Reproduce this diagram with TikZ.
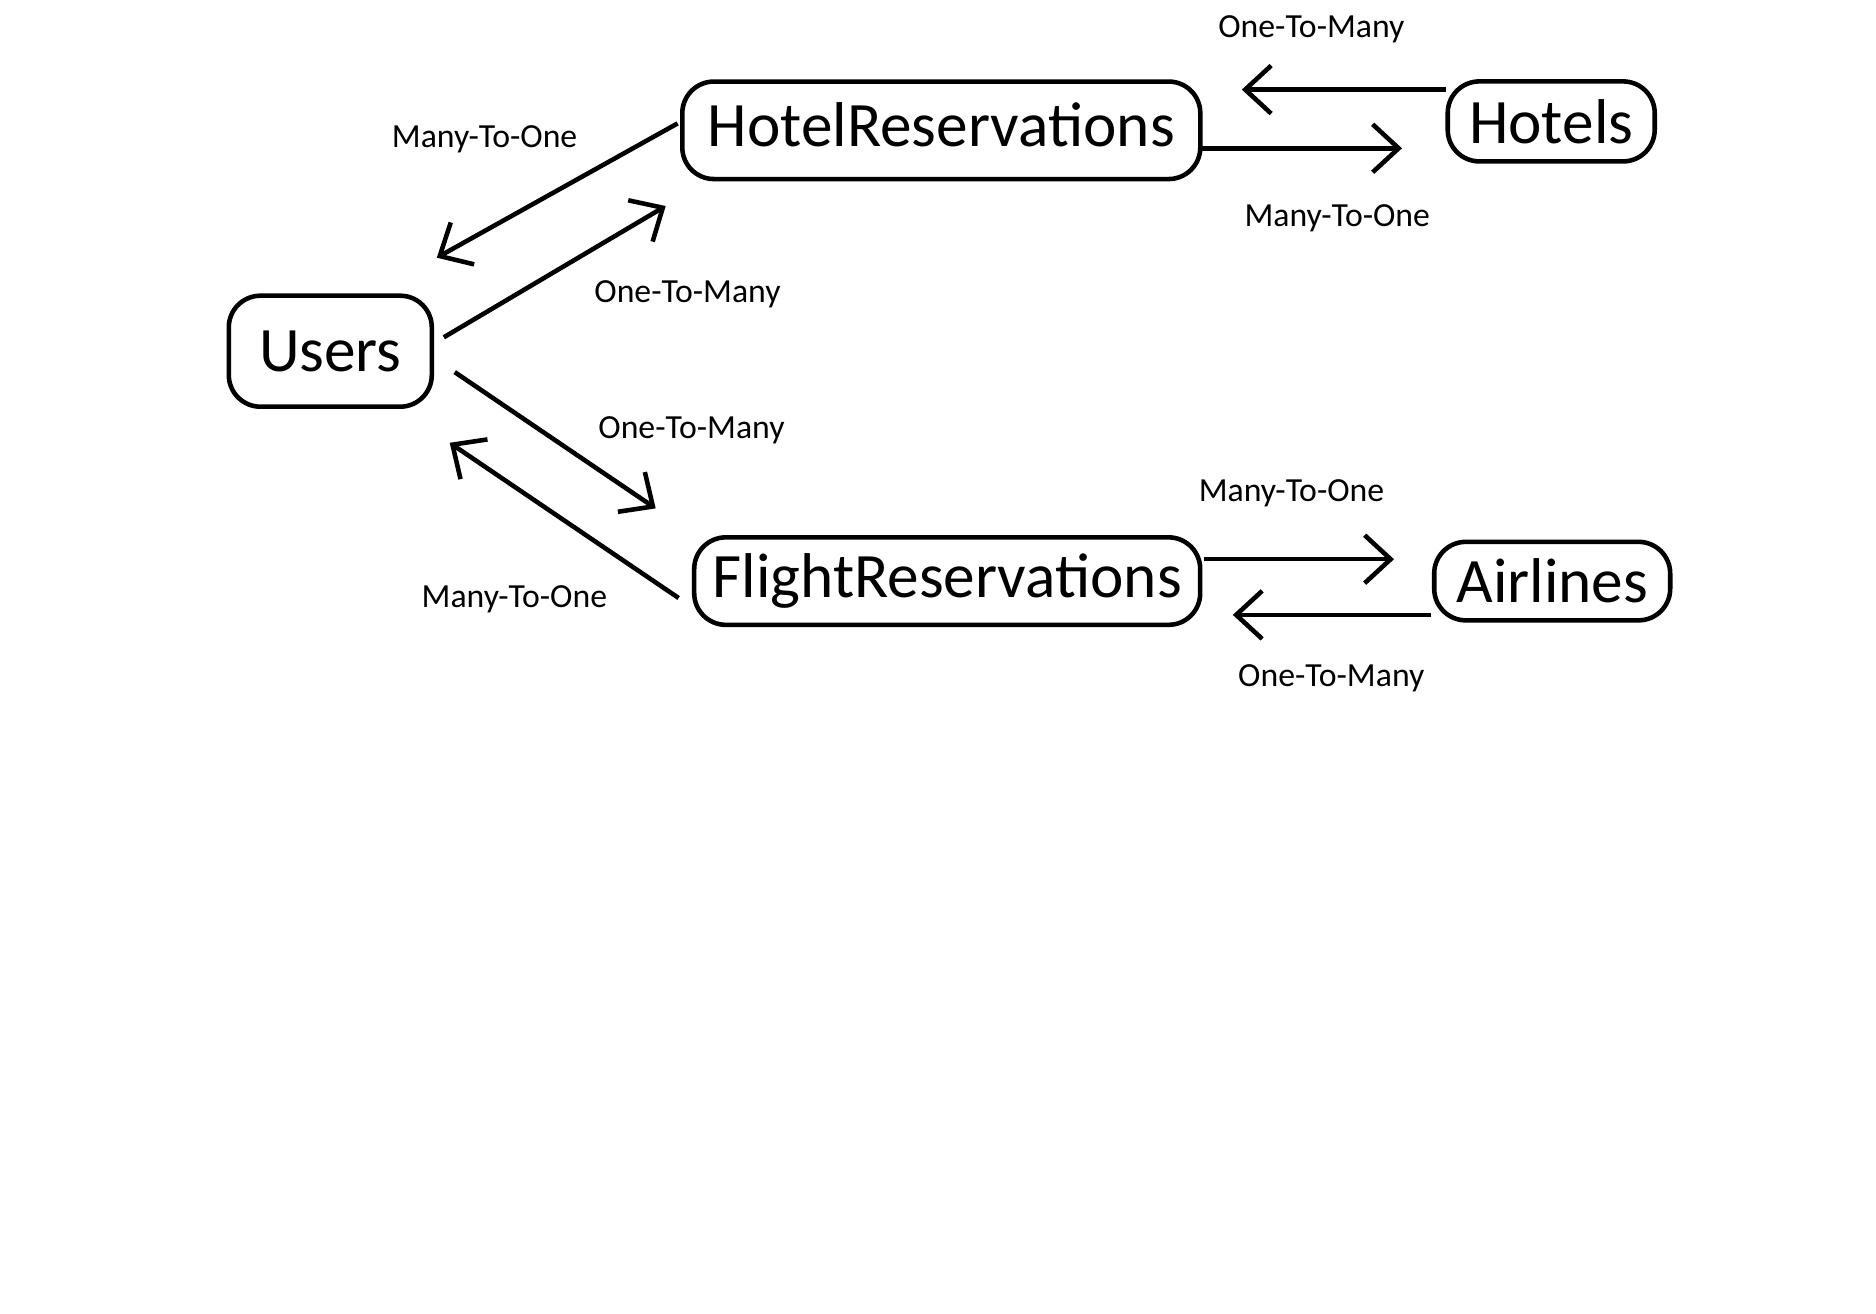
\documentclass[tikz,border=0pt]{standalone}
\usepackage{fontspec}
\setmainfont{Carlito}
\usetikzlibrary{arrows.meta}

\begin{document}
\begin{tikzpicture}[
    tablenode/.style={shape=rectangle, draw=black, line width=1.3pt, rounded corners=9pt, font=\fontsize{18}{22}\selectfont, inner sep=0pt},
    relnode/.style={font=\fontsize{9.6}{12}\selectfont, inner sep=1pt},
    relarrow/.style={line width=1.3pt, -{Straight Barb[length=2.6mm, width=4.8mm]}}
]
% Grid for drafting
%\draw[step=1cm,yellow,very thin] (0,0) grid (19,-14);
\useasboundingbox (0,0) rectangle (18.76,-13.14);

% Boxes
\node[tablenode, minimum width=2.03cm, minimum height=1.11cm] (users) at (3.303,-3.512) {Users};
\node[tablenode, minimum width=5.18cm, minimum height=0.975cm, text depth=0.12cm] (hotelres) at (9.413,-1.303) {HotelReservations};
\node[tablenode, minimum width=2.07cm, minimum height=0.80cm] (hotels) at (15.512,-1.214) {Hotels};
\node[tablenode, minimum width=5.06cm, minimum height=0.875cm] (flightres) at (9.472,-5.811) {FlightReservations};
\node[tablenode, minimum width=2.36cm, minimum height=0.785cm] (airlines) at (15.522,-5.811) {Airlines};

% Coordinates
\coordinate (users_hotel_in) at (4.368,-2.577);
\coordinate (users_hotel_out) at (4.438,-3.373);
\coordinate (users_flight_out) at (4.547,-3.721);
\coordinate (users_flight_in) at (4.497,-4.428);
\coordinate (hotelres_users_out) at (6.776,-1.234);
\coordinate (hotelres_users_in) at (6.657,-2.060);
\coordinate (flightres_users_in) at (6.557,-5.084);
\coordinate (flightres_users_out) at (6.786,-5.980);
\coordinate (hotelres_hotels_in) at (12.418,-0.896);
\coordinate (hotels_hotelres_out) at (14.457,-0.896);
\coordinate (hotelres_hotels_out) at (12.010,-1.483);
\coordinate (hotels_hotelres_in) at (14.020,-1.483);
\coordinate (flightres_airlines_out) at (12.040,-5.592);
\coordinate (airlines_flightres_in) at (13.940,-5.592);
\coordinate (flightres_airlines_in) at (12.328,-6.149);
\coordinate (airlines_flightres_out) at (14.308,-6.149);

% Arrows
\draw[relarrow] (hotelres_users_out) -- (users_hotel_in);
\draw[relarrow] (users_hotel_out) -- (hotelres_users_in);
\draw[relarrow] (users_flight_out) -- (flightres_users_in);
\draw[relarrow] (flightres_users_out) -- (users_flight_in);
\draw[relarrow] (hotels_hotelres_out) -- (hotelres_hotels_in);
\draw[relarrow] (hotelres_hotels_out) -- (hotels_hotelres_in);
\draw[relarrow] (flightres_airlines_out) -- (airlines_flightres_in);
\draw[relarrow] (airlines_flightres_out) -- (flightres_airlines_in);

% Labels
\node[relnode] (rel_hu) at (4.846,-1.39) {Many-To-One};
\node[relnode] (rel_uh) at (6.875,-2.94) {One-To-Many};
\node[relnode] (rel_uf) at (6.915,-4.305) {One-To-Many};
\node[relnode] (rel_fu) at (5.144,-5.995) {Many-To-One};
\node[relnode] (rel_hh) at (13.114,-0.295) {One-To-Many};
\node[relnode] (rel_rh) at (13.373,-2.185) {Many-To-One};
\node[relnode] (rel_fa) at (12.915,-4.93) {Many-To-One};
\node[relnode] (rel_af) at (13.313,-6.78) {One-To-Many};

\end{tikzpicture}
\end{document}
